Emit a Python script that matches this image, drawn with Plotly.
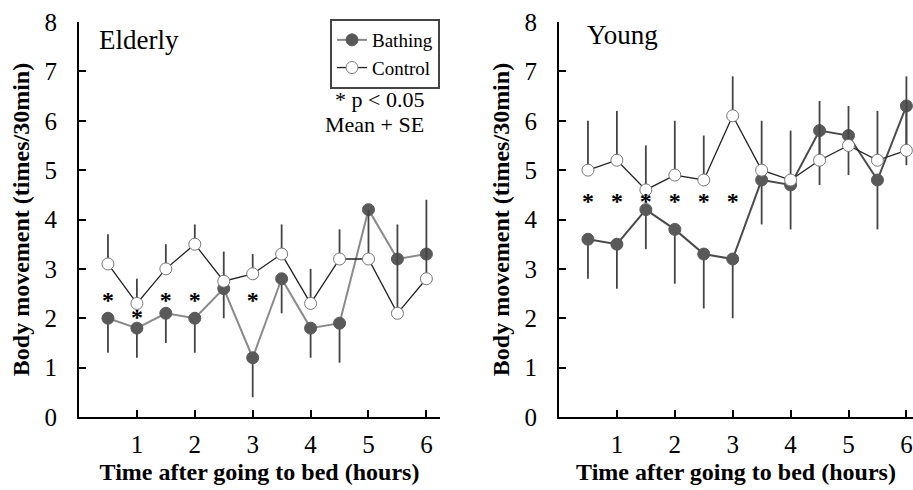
import plotly.graph_objects as go

# ---------------- data ----------------
hours = [0.5, 1, 1.5, 2, 2.5, 3, 3.5, 4, 4.5, 5, 5.5, 6]
tick_hours = [1, 2, 3, 4, 5, 6]
y_ticks = [0, 1, 2, 3, 4, 5, 6, 7, 8]

eld_bath = [2.0, 1.8, 2.1, 2.0, 2.6, 1.2, 2.8, 1.8, 1.9, 4.2, 3.2, 3.3]
eld_bath_se = [0.7, 0.6, 0.6, 0.7, 0.6, 0.8, 0.7, 0.6, 0.8, 0.0, 0.0, 0.0]
eld_ctrl = [3.1, 2.3, 3.0, 3.5, 2.75, 2.9, 3.3, 2.3, 3.2, 3.2, 2.1, 2.8]
eld_ctrl_se = [0.6, 0.5, 0.5, 0.4, 0.6, 0.4, 0.6, 0.7, 0.6, 1.0, 1.8, 1.6]
eld_sig_x = [0.5, 1, 1.5, 2, 3]
eld_sig_y = [2.32, 1.98, 2.32, 2.32, 2.32]

yng_bath = [3.6, 3.5, 4.2, 3.8, 3.3, 3.2, 4.8, 4.7, 5.8, 5.7, 4.8, 6.3]
yng_bath_se = [0.8, 0.9, 0.8, 1.1, 1.1, 1.2, 0.9, 0.9, 1.1, 0.8, 1.0, 1.2]
yng_ctrl = [5.0, 5.2, 4.6, 4.9, 4.8, 6.1, 5.0, 4.8, 5.2, 5.5, 5.2, 5.4]
yng_ctrl_se = [1.0, 1.0, 0.9, 1.1, 0.9, 0.8, 1.0, 1.0, 1.2, 0.8, 1.0, 1.5]
yng_sig_x = [0.5, 1, 1.5, 2, 2.5, 3]
yng_sig_y = [4.33, 4.33, 4.33, 4.33, 4.33, 4.33]

FONT = "Liberation Serif, Times New Roman, serif"
BAR_C = "#444444"
FILL_C = "#595959"
zeros = [0] * len(hours)

fig = go.Figure()


def add_panel(xa, ya, bath, bath_se, ctrl, ctrl_se, sig_x, sig_y, bath_line, legend):
    fig.add_trace(go.Scatter(
        x=hours, y=bath, name="Bathing", mode="lines+markers",
        xaxis=xa, yaxis=ya, showlegend=legend, cliponaxis=False,
        line=dict(color=bath_line, width=2),
        marker=dict(size=12, color=FILL_C, line=dict(color=FILL_C, width=1)),
        error_y=dict(type="data", symmetric=False, array=zeros, arrayminus=bath_se,
                     color=BAR_C, thickness=1.8, width=0),
    ))
    fig.add_trace(go.Scatter(
        x=hours, y=ctrl, name="Control", mode="lines+markers",
        xaxis=xa, yaxis=ya, showlegend=legend, cliponaxis=False,
        line=dict(color="#222222", width=1.3),
        marker=dict(size=12, color="white", line=dict(color="#777777", width=1)),
        error_y=dict(type="data", symmetric=False, array=ctrl_se, arrayminus=zeros,
                     color=BAR_C, thickness=1.8, width=0),
    ))
    fig.add_trace(go.Scatter(
        x=sig_x, y=sig_y, mode="text", text=["<b>*</b>"] * len(sig_x),
        xaxis=xa, yaxis=ya, showlegend=False, hoverinfo="skip",
        textfont=dict(family=FONT, size=24, color="#000000"),
    ))


add_panel("x", "y", eld_bath, eld_bath_se, eld_ctrl, eld_ctrl_se,
          eld_sig_x, eld_sig_y, "#8a8a8a", True)
add_panel("x2", "y2", yng_bath, yng_bath_se, yng_ctrl, yng_ctrl_se,
          yng_sig_x, yng_sig_y, "#4a4a4a", False)

W, H = 913, 490
ydom = [(H - 417) / H, (H - 22) / H]

xcommon = dict(
    tickvals=tick_hours, ticks="inside", ticklen=7, tickwidth=1.5, tickcolor="black",
    showline=True, linewidth=2, linecolor="black", showgrid=False, zeroline=False,
    tickfont=dict(family=FONT, size=25, color="black"), ticklabelstandoff=4,
    automargin=False,
    title=dict(text="<b>Time after going to bed (hours)</b>",
               font=dict(family=FONT, size=24, color="black"), standoff=6),
)
ycommon = dict(
    range=[0, 8], tickvals=y_ticks, ticks="inside", ticklen=7, tickwidth=1.5,
    tickcolor="black", showline=True, linewidth=2, linecolor="black",
    showgrid=False, zeroline=False,
    tickfont=dict(family=FONT, size=25, color="black"), ticklabelstandoff=15,
    automargin=False, domain=ydom,
    title=dict(text="<b>Body movement (times/30min)</b>",
               font=dict(family=FONT, size=24, color="black"), standoff=8),
)

fig.update_layout(
    width=W, height=H, margin=dict(l=0, r=0, t=0, b=0),
    plot_bgcolor="white", paper_bgcolor="white",
    font=dict(family=FONT, color="black"),
    xaxis=dict(domain=[79 / W, 440 / W], range=[0, 6.235], anchor="y", **xcommon),
    yaxis=dict(anchor="x", **ycommon),
    xaxis2=dict(domain=[559 / W, 1.0], range=[0, 6.114], anchor="y2", **xcommon),
    yaxis2=dict(anchor="x2", **ycommon),
    legend=dict(x=440 / W, y=(H - 19) / H, xanchor="right", yanchor="top",
                bordercolor="#444444", borderwidth=2, bgcolor="white",
                font=dict(family=FONT, size=19, color="black"),
                tracegroupgap=0, itemwidth=30),
    showlegend=True,
)

fig.add_annotation(x=0.31, y=7.64, xref="x", yref="y", text="Elderly", showarrow=False,
                   xanchor="left", yanchor="middle", font=dict(family=FONT, size=27))
fig.add_annotation(x=0.45, y=7.74, xref="x2", yref="y2", text="Young", showarrow=False,
                   xanchor="left", yanchor="middle", font=dict(family=FONT, size=27))
fig.add_annotation(x=5.99, y=6.44, xref="x", yref="y", text="* p &lt; 0.05", showarrow=False,
                   xanchor="right", yanchor="middle", font=dict(family=FONT, size=22))
fig.add_annotation(x=5.99, y=5.92, xref="x", yref="y", text="Mean + SE", showarrow=False,
                   xanchor="right", yanchor="middle", font=dict(family=FONT, size=22))

fig.write_html("out.html", config={"displayModeBar": False},
               post_script="document.body.style.margin='0px';document.body.style.overflow='hidden';")
